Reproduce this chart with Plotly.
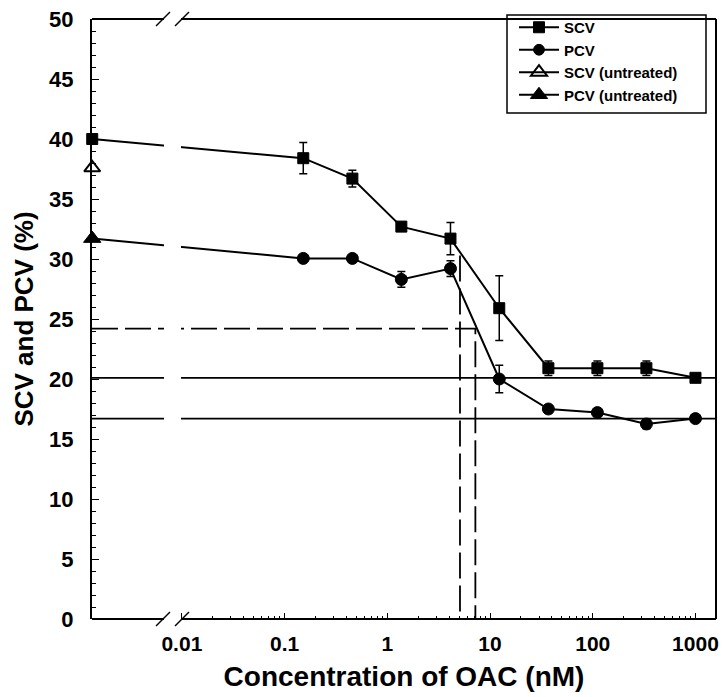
import plotly.graph_objects as go

# ---- data ----
conc = [0.00134, 0.152, 0.457, 1.37, 4.12, 12.3, 37.0, 111, 333, 1000]   # first value = 0 nM, plotted at axis
scv = [40.0, 38.4, 36.7, 32.7, 31.7, 25.9, 20.9, 20.9, 20.9, 20.1]
scv_err = [0, 1.3, 0.7, 0.2, 1.35, 2.7, 0.6, 0.6, 0.6, 0]
pcv = [31.7, 30.05, 30.05, 28.3, 29.2, 20.0, 17.5, 17.2, 16.25, 16.7]
pcv_err = [0, 0.2, 0.2, 0.65, 0.65, 1.15, 0.2, 0.2, 0.4, 0]
untreated_conc = [0.00134]
scv_untreated = [37.6]
pcv_untreated = [31.7]
ref_levels = [20.1, 16.7]
half_scv = (5.1, 30.3)
half_pcv = (7.2, 24.2)
x_ticks = [0.01, 0.1, 1, 10, 100, 1000]
x_ticktext = ["0.01", "0.1", "1", "10", "100", "1000"]
y_ticks = [0, 5, 10, 15, 20, 25, 30, 35, 40, 45, 50]

FONT = "Liberation Sans, Arial, sans-serif"
x_lo, x_hi = -2.875, 3.2

fig = go.Figure()

# reference horizontal lines
for lv in ref_levels:
    fig.add_trace(go.Scatter(x=[10 ** x_lo, 10 ** x_hi], y=[lv, lv], mode="lines",
                             line=dict(color="black", width=1.8), showlegend=False,
                             hoverinfo="skip"))
# dashed guide lines
fig.add_trace(go.Scatter(x=[10 ** x_lo, half_pcv[0], half_pcv[0]], y=[half_pcv[1], half_pcv[1], 0],
                         mode="lines", line=dict(color="black", width=1.8, dash="26px,7px"),
                         showlegend=False, hoverinfo="skip"))
fig.add_trace(go.Scatter(x=[half_scv[0], half_scv[0]], y=[half_scv[1], 0],
                         mode="lines", line=dict(color="black", width=1.8, dash="26px,7px"),
                         showlegend=False, hoverinfo="skip"))

sizes = [11] * len(conc)
psizes = [0] + [12] * (len(conc) - 1)
mline = dict(color="black", width=1)

fig.add_trace(go.Scatter(x=conc, y=scv, name="SCV", mode="lines+markers", opacity=1,
                         line=dict(color="black", width=2),
                         marker=dict(symbol="square", size=sizes, color="black", opacity=1, line=mline),
                         error_y=dict(type="data", array=scv_err, color="black", thickness=1.5, width=4),
                         cliponaxis=False))
fig.add_trace(go.Scatter(x=conc, y=pcv, name="PCV", mode="lines+markers", opacity=1,
                         line=dict(color="black", width=2),
                         marker=dict(symbol="circle", size=psizes, color="black", opacity=1, line=mline),
                         error_y=dict(type="data", array=pcv_err, color="black", thickness=1.5, width=4),
                         cliponaxis=False))
fig.add_trace(go.Scatter(x=untreated_conc, y=scv_untreated, name="SCV (untreated)", mode="lines+markers",
                         line=dict(color="black", width=2),
                         marker=dict(symbol="triangle-up-open", size=14, color="black", line=dict(width=2)),
                         cliponaxis=False))
fig.add_trace(go.Scatter(x=untreated_conc, y=pcv_untreated, name="PCV (untreated)", mode="lines+markers",
                         line=dict(color="black", width=2),
                         marker=dict(symbol="triangle-up", size=15, color="black", line=mline),
                         cliponaxis=False))

# ---- axis break & frame (paper coords from page-pixel helpers) ----
L, R, T, B = 92.0, 716.0, 19.0, 619.0
W, H = R - L, B - T
def px(x): return (x - L) / W
def py(y): return (B - y) / H

shapes = []
g0, g1 = px(164), px(181)
shapes.append(dict(type="rect", xref="paper", yref="paper", x0=g0, x1=g1, y0=-0.01, y1=1.01,
                   fillcolor="white", line=dict(width=0), layer="above"))
line = dict(color="black", width=2)
for yy in (0, 1):
    shapes.append(dict(type="line", xref="paper", yref="paper", x0=0, x1=g0, y0=yy, y1=yy, line=line, layer="above"))
    shapes.append(dict(type="line", xref="paper", yref="paper", x0=g1, x1=1, y0=yy, y1=yy, line=line, layer="above"))
shapes.append(dict(type="line", xref="paper", yref="paper", x0=1, x1=1, y0=0, y1=1, line=line, layer="above"))
for cx in (163, 182):
    for cy in (B, T):
        shapes.append(dict(type="line", xref="paper", yref="paper",
                           x0=px(cx - 7), y0=py(cy + 7), x1=px(cx + 7), y1=py(cy - 7),
                           line=dict(color="black", width=1.5), layer="above"))
# legend box
shapes.append(dict(type="rect", xref="paper", yref="paper", x0=px(507), x1=px(706), y0=py(113), y1=py(15),
                   line=dict(color="black", width=1.5), fillcolor="rgba(0,0,0,0)", layer="above"))

minor_vals = [m * 10 ** e for e in range(-2, 3) for m in range(2, 10)]

fig.update_layout(
    width=724, height=697,
    margin=dict(l=L, r=724 - R, t=T, b=697 - B, autoexpand=False),
    paper_bgcolor="white", plot_bgcolor="white",
    showlegend=True,
    legend=dict(x=px(514), y=py(11), xanchor="left", yanchor="top",
                bgcolor="rgba(0,0,0,0)", borderwidth=0, itemwidth=40, tracegroupgap=0,
                font=dict(family=FONT, size=15, color="black", weight="bold")),
    shapes=shapes,
    xaxis=dict(type="log", range=[x_lo, x_hi], showgrid=False, zeroline=False, showline=False,
               automargin=False,
               tickmode="array", tickvals=x_ticks, ticktext=x_ticktext,
               ticks="inside", ticklen=6, tickwidth=1.2, tickcolor="black",
               minor=dict(tickvals=minor_vals, ticks="inside", ticklen=3, tickcolor="black", showgrid=False),
               ticklabelstandoff=10, ticklabeloverflow="allow",
               tickfont=dict(family=FONT, size=21, color="black", weight="bold"),
               title=dict(text="Concentration of OAC (nM)", standoff=12,
                          font=dict(family=FONT, size=28, color="black", weight="bold"))),
    yaxis=dict(range=[0, 50], showgrid=False, zeroline=False, showline=True, linecolor="black", linewidth=2,
               automargin=False,
               tickmode="array", tickvals=y_ticks,
               ticks="inside", ticklen=7, tickwidth=1.2, tickcolor="black",
               minor=dict(dtick=1, ticks="inside", ticklen=4, tickcolor="black", showgrid=False),
               ticklabelstandoff=12, ticklabeloverflow="allow",
               tickfont=dict(family=FONT, size=22, color="black", weight="bold"),
               title=dict(text="SCV and PCV (%)", standoff=8,
                          font=dict(family=FONT, size=26, color="black", weight="bold"))),
)

fig.write_html("out.html", config={"displayModeBar": False},
               post_script="document.body.style.margin='0';document.body.style.overflow='hidden';")
